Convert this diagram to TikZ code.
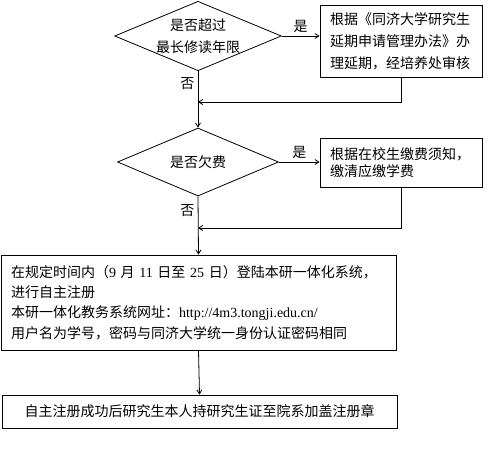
\documentclass[tikz,border=0pt]{standalone}
\usepackage{fontspec}
\setmainfont{Noto Sans CJK SC}
\newfontfamily\latfont{Liberation Serif}
\usetikzlibrary{arrows.meta,positioning,shapes.geometric}

\begin{document}
\begin{tikzpicture}[x=1pt,y=-1pt,>={Straight Barb[length=4pt,width=5pt]},
  every node/.style={font=\fontsize{14pt}{21.5pt}\selectfont},
  flowbox/.style={draw,line width=0.8pt,rectangle,inner sep=0pt},
  decide/.style={draw,line width=0.8pt,diamond,inner sep=0pt,aspect=2.4,
    minimum width=161pt,minimum height=68pt,align=center},
  flow/.style={line width=0.8pt,->}]
  \useasboundingbox (0,0) rectangle (492,448);
  \node[decide] (ask1) at (198,36) {是否超过\\最长修读年限};
  \node[flowbox,minimum width=162pt,minimum height=72pt,text width=142pt,align=left,
    font=\fontsize{14pt}{22pt}\selectfont]
    (extend) at (401,41) {根据《同济大学研究生\\延期申请管理办法》办\\理延期，经培养处审核};
  \node[decide] (ask2) at (198,162) {是否欠费};
  \node[flowbox,minimum width=162pt,minimum height=49pt,text width=142pt,align=left,
    font=\fontsize{14pt}{17pt}\selectfont]
    (fee) at (401,162.5) {根据在校生缴费须知，\\缴清应缴学费};
  \node[flowbox,minimum width=395pt,minimum height=95pt,text width=375pt,align=left,
    font=\fontsize{14pt}{20.3pt}\selectfont]
    (login) at (198.5,302.5) {在规定时间内（{\latfont 9} 月 {\latfont 11} 日至 {\latfont 25} 日）登陆本研一体化系统，\\
    进行自主注册\\
    本研一体化教务系统网址：{\latfont http://4m3.tongji.edu.cn/}\\
    用户名为学号，密码与同济大学统一身份认证密码相同};
  \node[flowbox,minimum width=395pt,minimum height=33pt]
    (stamp) at (199.5,411.5) {自主注册成功后研究生本人持研究生证至院系加盖注册章};
  \coordinate (join1) at (198,102);
  \coordinate (join2) at (198,228);
  \draw[flow] (ask1.east) -- node[above] {是} (extend.west|-ask1.east);
  \draw[flow] (ask1.south) -- node[left,pos=0.22] {否} (ask2.north);
  \draw[flow] (extend.south) |- (join1);
  \draw[flow] (ask2.east) -- node[above] {是} (fee.west|-ask2.east);
  \draw[flow] (ask2.south) -- node[left,pos=0.24] {否} (login.north);
  \draw[flow] (fee.south) |- (join2);
  \draw[flow] (login.south) -- (stamp.north);
\end{tikzpicture}
\end{document}
